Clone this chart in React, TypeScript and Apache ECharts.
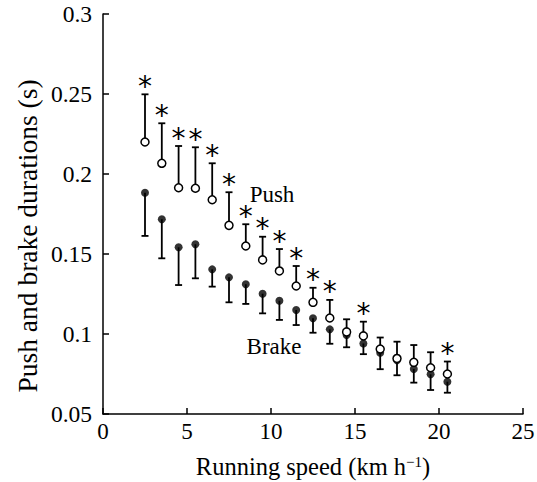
import React, { useEffect, useRef } from "react";
import * as echarts from "echarts";

const speeds = [2.5, 3.5, 4.5, 5.5, 6.5, 7.5, 8.5, 9.5, 10.5, 11.5, 12.5, 13.5, 14.5, 15.5, 16.5, 17.5, 18.5, 19.5, 20.5];
const pushMean = [0.22, 0.2067, 0.1914, 0.1911, 0.1839, 0.1679, 0.155, 0.1463, 0.1394, 0.13, 0.1198, 0.11, 0.1013, 0.0988, 0.0906, 0.0847, 0.0823, 0.0789, 0.075];
const pushUpper = [0.2498, 0.2317, 0.2175, 0.2167, 0.2067, 0.1886, 0.1686, 0.1608, 0.1531, 0.1425, 0.1289, 0.1213, 0.1092, 0.1077, 0.0978, 0.0952, 0.0931, 0.0886, 0.0828];
const brakeMean = [0.1883, 0.1717, 0.1542, 0.1561, 0.1404, 0.1354, 0.1311, 0.1252, 0.1208, 0.115, 0.1098, 0.1029, 0.0994, 0.0941, 0.0883, 0.0836, 0.0781, 0.0748, 0.0702];
const brakeLower = [0.1613, 0.1473, 0.1306, 0.1348, 0.1296, 0.1198, 0.1188, 0.1129, 0.1088, 0.1056, 0.1008, 0.0939, 0.0917, 0.0874, 0.078, 0.0742, 0.0696, 0.065, 0.0633];
const significant = [1, 1, 1, 1, 1, 1, 1, 1, 1, 1, 1, 1, 0, 1, 0, 0, 0, 0, 1];

const FONT = '"Liberation Serif", "Times New Roman", serif';
const STAR_FONT = '"DejaVu Sans", sans-serif';

export default function App() {
  const ref = useRef<HTMLDivElement>(null);
  useEffect(() => {
    if (!ref.current) return;
    const chart = echarts.init(ref.current, null, { renderer: "svg" });
    const errRender = (withStar: boolean) => (params: any, api: any) => {
      const x = api.value(0);
      const v = api.value(1);
      const e = api.value(2);
      const star = api.value(3);
      const p0 = api.coord([x, v]);
      const p1 = api.coord([x, e]);
      const children: any[] = [
        { type: "line", shape: { x1: p0[0], y1: p0[1], x2: p1[0], y2: p1[1] }, style: { stroke: "#000", lineWidth: 1.8 } },
        { type: "line", shape: { x1: p1[0] - 3.5, y1: p1[1], x2: p1[0] + 3.5, y2: p1[1] }, style: { stroke: "#000", lineWidth: 1.8 } },
      ];
      if (withStar && star) {
        children.push({
          type: "text",
          x: p1[0],
          y: p1[1] - 8,
          style: { text: "*", fill: "#000", font: `28px ${STAR_FONT}`, align: "center", verticalAlign: "middle" },
        });
      }
      return { type: "group", children };
    };
    chart.setOption({
      animation: false,
      backgroundColor: "#fff",
      grid: { left: 103, right: 14, top: 14, bottom: 68, containLabel: false, outerBoundsMode: "none" },
      xAxis: {
        type: "value",
        min: 0,
        max: 25,
        interval: 5,
        name: "Running speed (km h{sup|\u22121})",
        nameLocation: "middle",
        nameGap: 40,
        nameTextStyle: {
          fontFamily: FONT,
          fontSize: 24.5,
          color: "#000",
          rich: { sup: { fontFamily: FONT, fontSize: 15, verticalAlign: "top", color: "#000" } },
        },
        axisLine: { lineStyle: { color: "#000", width: 1.5 } },
        axisTick: { inside: true, length: 6, lineStyle: { color: "#000", width: 1.5 } },
        axisLabel: { fontFamily: FONT, fontSize: 23, color: "#000", margin: 6 },
        splitLine: { show: false },
      },
      yAxis: {
        type: "value",
        min: 0.05,
        max: 0.3,
        interval: 0.05,
        axisLine: { show: true, lineStyle: { color: "#000", width: 1.5 } },
        axisTick: { show: true, inside: true, length: 6, lineStyle: { color: "#000", width: 1.5 } },
        axisLabel: {
          fontFamily: FONT,
          fontSize: 23.5,
          color: "#000",
          margin: 11,
          formatter: (v: number) => String(+v.toFixed(2)),
        },
        splitLine: { show: false },
      },
      graphic: [
        {
          type: "text",
          x: 27,
          y: 236,
          rotation: Math.PI / 2,
          style: { text: "Push and brake durations (s)", fill: "#000", font: `27.5px ${FONT}`, align: "center", verticalAlign: "middle" },
        },
        {
          type: "text",
          x: 272,
          y: 194,
          style: { text: "Push", fill: "#000", font: `23px ${FONT}`, align: "center", verticalAlign: "middle" },
        },
        {
          type: "text",
          x: 274,
          y: 346,
          style: { text: "Brake", fill: "#000", font: `23px ${FONT}`, align: "center", verticalAlign: "middle" },
        },
      ],
      series: [
        {
          type: "custom",
          name: "Push error",
          z: 1,
          renderItem: errRender(true),
          data: speeds.map((s, i) => [s, pushMean[i], pushUpper[i], significant[i]]),
        },
        {
          type: "custom",
          name: "Brake error",
          z: 1,
          renderItem: errRender(false),
          data: speeds.map((s, i) => [s, brakeMean[i], brakeLower[i], 0]),
        },
        {
          type: "scatter",
          name: "Brake",
          z: 3,
          symbol: "circle",
          symbolSize: 8,
          itemStyle: { color: "#000" },
          data: speeds.map((s, i) => [s, brakeMean[i]]),
        },
        {
          type: "scatter",
          name: "Push",
          z: 4,
          symbol: "circle",
          symbolSize: 8,
          itemStyle: { color: "#fff", borderColor: "#000", borderWidth: 1.5, opacity: 1 },
          data: speeds.map((s, i) => [s, pushMean[i]]),
        },
      ],
    });
    return () => chart.dispose();
  }, []);
  return <div ref={ref} style={{ position: "absolute", left: 0, top: 0, width: 537, height: 482 }} />;
}
